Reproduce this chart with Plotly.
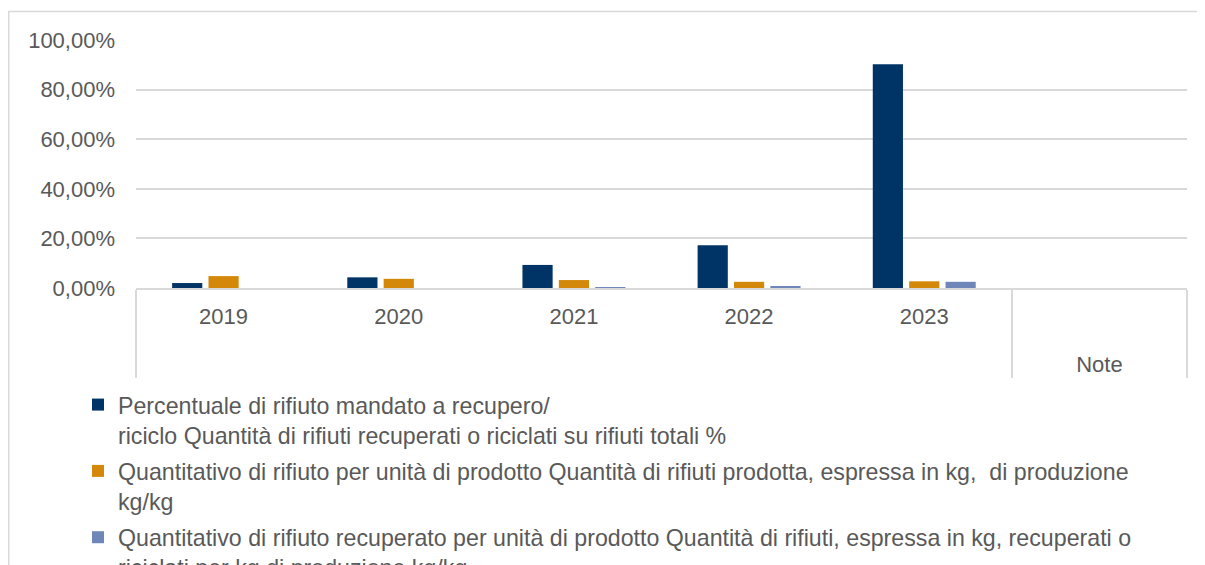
import plotly.graph_objects as go

years = ["2019", "2020", "2021", "2022", "2023", " "]
groups = [" ", " ", " ", " ", " ", "<br>Note"]

s1_name = "Percentuale di rifiuto mandato a recupero/<br>riciclo Quantità di rifiuti recuperati o riciclati su rifiuti totali %"
s2_name = "Quantitativo di rifiuto per unità di prodotto Quantità di rifiuti prodotta, espressa in kg,  di produzione<br>kg/kg"
s3_name = "Quantitativo di rifiuto recuperato per unità di prodotto Quantità di rifiuti, espressa in kg, recuperati o<br>riciclati per kg di produzione kg/kg"

s1_values = [0.020, 0.043, 0.093, 0.172, 0.902, None]
s2_values = [0.048, 0.037, 0.032, 0.025, 0.027, None]
s3_values = [0.000, 0.000, 0.002, 0.005, 0.025, None]

colors = ["#003466", "#D4880A", "#6F87B8"]
FONT = "Liberation Sans, Arial, sans-serif"
GREY = "#595959"

fig = go.Figure()
for i, (name, vals, col) in enumerate([(s1_name, s1_values, colors[0]),
                                       (s2_name, s2_values, colors[1]),
                                       (s3_name, s3_values, colors[2])]):
    fig.add_trace(go.Bar(x=[groups, years], y=vals, name=name, legendgroup=f"g{i}",
                         marker=dict(color=col, line=dict(width=0))))

# page is offset by 8px (body margin); coordinates below are figure coords
W, H = 1205, 640
L, R, T = 128, 26, 32
BOTTOM = 280
B = H - BOTTOM
pw, ph = W - L - R, BOTTOM - T

def px_x(p):
    return (p - L) / pw

def px_y(p):
    return (BOTTOM - p) / ph

fig.add_shape(type="rect", xref="paper", yref="paper",
              x0=px_x(0.75), x1=px_x(1300), y0=px_y(3.5), y1=px_y(700),
              line=dict(color="#d9d9d9", width=1.5), fillcolor="rgba(0,0,0,0)", layer="below")

fig.update_layout(
    width=W, height=H,
    margin=dict(l=L, r=R, t=T, b=B),
    paper_bgcolor="white", plot_bgcolor="white",
    separators=",.",
    barmode="group", bargap=0.377, bargroupgap=0.17,
    font=dict(family=FONT, size=22, color=GREY),
    showlegend=True,
    legend=dict(orientation="v", x=px_x(70), y=px_y(375), xanchor="left", yanchor="top",
                font=dict(family=FONT, size=23.2, color=GREY), valign="top",
                tracegroupgap=3, bgcolor="rgba(0,0,0,0)"),
    xaxis=dict(type="multicategory", showgrid=False, showline=True, linecolor="#d9d9d9", linewidth=1.5,
               showdividers=True, dividercolor="#d9d9d9", dividerwidth=1.5,
               ticklabelstandoff=8,
               tickfont=dict(family=FONT, size=22, color=GREY), ticks=""),
    yaxis=dict(range=[0, 1.0], dtick=0.2, tickformat=".2%", showgrid=True, gridcolor="#d9d9d9",
               gridwidth=1.5, zeroline=False, showline=False, ticks="",
               ticklabelstandoff=20, tickfont=dict(family=FONT, size=22, color=GREY)),
)

fig.write_html("out.html")
